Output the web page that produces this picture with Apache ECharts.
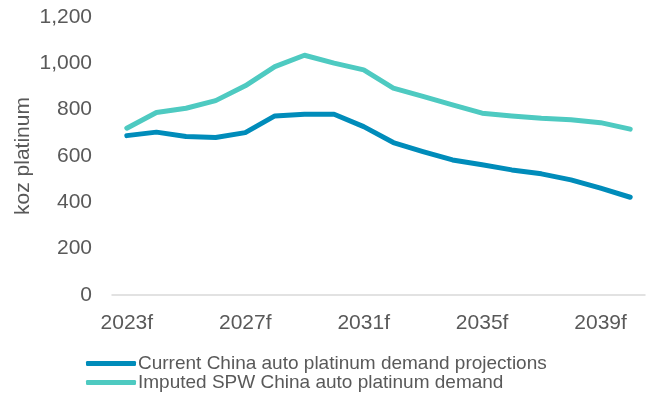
<!DOCTYPE html>
<html><head><meta charset="utf-8">
<script src="https://cdn.jsdelivr.net/npm/echarts@6/dist/echarts.min.js"></script>
<style>html,body{margin:0;padding:0;background:#fff}#c{width:653px;height:401px}</style>
</head><body><div id="c"></div>
<script>
const categories = ['2023f','2024f','2025f','2026f','2027f','2028f','2029f','2030f','2031f','2032f','2033f','2034f','2035f','2036f','2037f','2038f','2039f','2040f'];
const currentDemand = [688,703,684,680,701,773,780,780,727,658,619,583,562,540,523,497,461,422];
const imputedDemand = [720,788,806,839,903,986,1035,1001,972,893,857,821,785,773,763,756,744,716];
const yTicks = {min:0, max:1200, interval:200};
const seriesNames = ['Current China auto platinum demand projections','Imputed SPW China auto platinum demand'];

const font = 'Liberation Sans, Arial, sans-serif';
const legendBase = {
  orient:'horizontal', left:81, itemWidth:50, itemHeight:5,
  textStyle:{color:'#595959', fontSize:19, fontFamily:font, padding:[0,0,0,-3]}
};
const chart = echarts.init(document.getElementById('c'), null, {renderer:'canvas'});
chart.setOption({
  animation:false,
  textStyle:{fontFamily:font},
  grid:{left:112, right:8, top:17, bottom:106},
  legend:[
    Object.assign({}, legendBase, {top:349, data:[{name:seriesNames[0], icon:'roundRect'}]}),
    Object.assign({}, legendBase, {top:368, data:[{name:seriesNames[1], icon:'roundRect'}]})
  ],
  xAxis:{
    type:'category', data:categories, boundaryGap:true,
    axisLine:{lineStyle:{color:'#D9D9D9', width:1.5}},
    axisTick:{show:false},
    axisLabel:{interval:3, color:'#595959', fontSize:21, margin:18}
  },
  yAxis:{
    type:'value', min:yTicks.min, max:yTicks.max, interval:yTicks.interval,
    name:'koz platinum', nameLocation:'middle', nameGap:78, nameMoveOverlap:false,
    nameTextStyle:{color:'#595959', fontSize:21},
    axisLine:{show:false}, axisTick:{show:false}, splitLine:{show:false},
    axisLabel:{color:'#595959', fontSize:21, margin:20,
      formatter:v=>v.toLocaleString('en-US')}
  },
  series:[
    {name:seriesNames[0], type:'line', data:currentDemand,
     showSymbol:false, lineStyle:{color:'#008CBA', width:5, cap:'round', join:'round'}, itemStyle:{color:'#008CBA'}},
    {name:seriesNames[1], type:'line', data:imputedDemand,
     showSymbol:false, lineStyle:{color:'#4ECAC1', width:5, cap:'round', join:'round'}, itemStyle:{color:'#4ECAC1'}}
  ]
});
</script></body></html>
